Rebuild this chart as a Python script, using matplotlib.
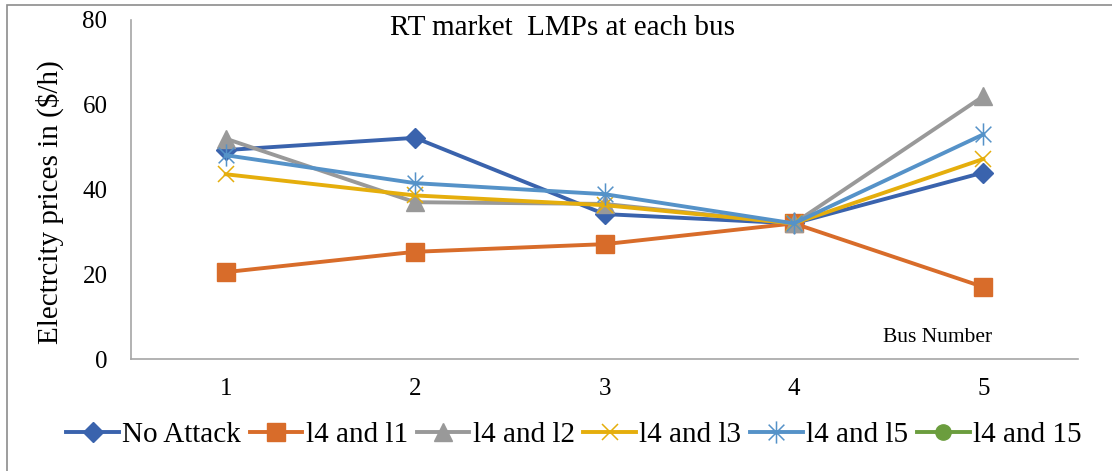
import numpy as np
import matplotlib.pyplot as plt
from matplotlib.patches import Rectangle
from matplotlib.path import Path

plt.rcParams['font.family'] = ['Liberation Serif', 'DejaVu Serif']

buses = ["1", "2", "3", "4", "5"]
no_attack = [49.3, 52.2, 34.2, 32.0, 44.0]
l4_l1 = [20.5, 25.3, 27.1, 32.0, 17.0]
l4_l2 = [52.0, 37.0, 36.6, 32.0, 62.0]
l4_l3 = [43.6, 38.6, 36.3, 32.0, 47.2]
l4_l5 = [48.1, 41.5, 38.9, 32.0, 53.0]
l4_15 = [np.nan] * 5  # series has no values, legend entry only

# asterisk: vertical bar plus an x
d = 0.707
star = Path([(0, -1), (0, 1), (-d, -d), (d, d), (-d, d), (d, -d)],
            [Path.MOVETO, Path.LINETO, Path.MOVETO, Path.LINETO,
             Path.MOVETO, Path.LINETO])

series = [
    ("No Attack", no_attack, "#3A63AD", "D", 10.5),
    ("l4 and l1", l4_l1, "#D86C2A", "s", 12.5),
    ("l4 and l2", l4_l2, "#999999", "^", 13),
    ("l4 and l3", l4_l3, "#E5AE0C", "x", 12),
    ("l4 and l5", l4_l5, "#5592C8", star, 16),
    ("l4 and 15", l4_15, "#6B9D3E", "o", 11),
]

fig = plt.figure(figsize=(11.12, 4.71), dpi=100)
# outer chart frame
fig.patches.append(Rectangle((7 / 1112, -0.1), 1.2, 1.1 - 5 / 471,
                             transform=fig.transFigure, fill=False,
                             edgecolor="#8c8c8c", linewidth=1.2))
ax = fig.add_axes([131 / 1112, 1 - 359 / 471, 947 / 1112, 339 / 471])

x = np.arange(len(buses))
for name, vals, color, marker, ms in series:
    if marker == "x" or marker is star:
        ax.plot(x, vals, color=color, lw=2.8, marker=marker, ms=ms,
                mew=1.1, mec=color, mfc="none", label=name)
    else:
        ax.plot(x, vals, color=color, lw=2.8, marker=marker, ms=ms, label=name)

ax.set_xlim(-0.5, 4.5)
ax.set_ylim(0, 80)
ax.set_yticks([0, 20, 40, 60, 80])
ax.set_xticks(x)
ax.set_xticklabels(buses)
ax.tick_params(length=0, labelsize=18)
ax.tick_params(axis="y", pad=17)
ax.tick_params(axis="x", pad=14)
for s in ("top", "right"):
    ax.spines[s].set_visible(False)
for s in ("left", "bottom"):
    ax.spines[s].set_color("#a6a6a6")
    ax.spines[s].set_linewidth(1.2)

fig.text(562 / 1112, 1 - 28 / 471, "RT market  LMPs at each bus",
         ha="center", va="center", fontsize=21)
fig.text(938 / 1112, 1 - 338 / 471, "Bus Number",
         ha="center", va="center", fontsize=15.5)
fig.text(50 / 1112, 1 - 202 / 471, "Electrcity prices in ($/h)", rotation=90,
         ha="center", va="center", fontsize=21)

fig.legend(loc="center", bbox_to_anchor=(574 / 1112, 1 - 435 / 471), ncol=6,
           frameon=False, fontsize=21, handlelength=1.8, handletextpad=0.12,
           columnspacing=0.3, borderaxespad=0)

fig.savefig("out.png", dpi=100)
